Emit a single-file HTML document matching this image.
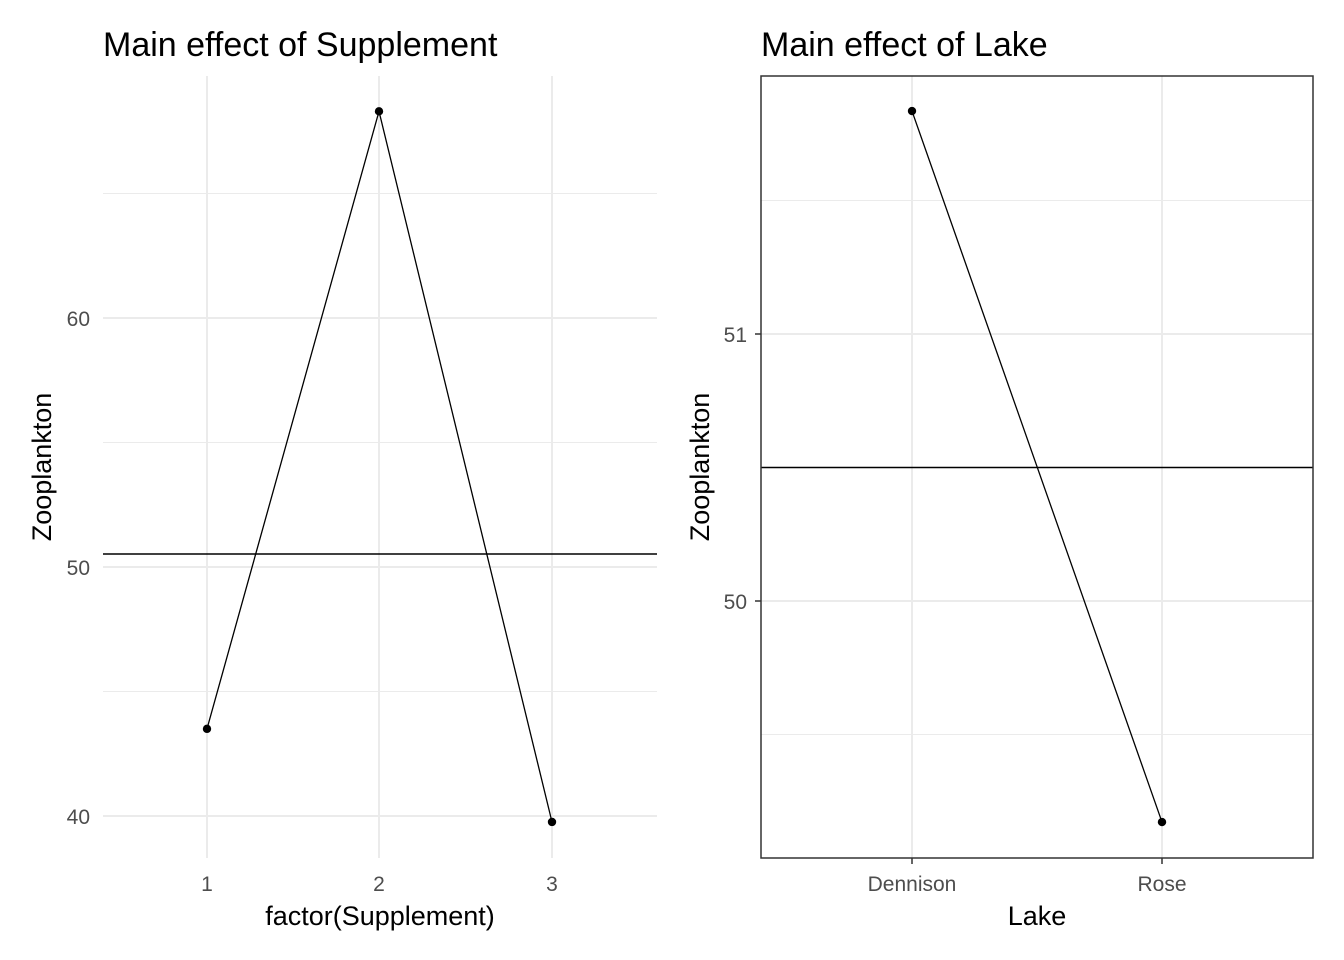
<!DOCTYPE html>
<html><head><meta charset="utf-8"><style>body{margin:0;background:#fff}svg{display:block}text{font-family:"Liberation Sans",Arial,sans-serif}</style></head>
<body>
<svg id="c" width="1344" height="960" xmlns="http://www.w3.org/2000/svg"></svg>
<script>
const supCats=["1","2","3"];
const supVals=[43.5,68.3,39.76];
const supMean=50.52;
const supTicks=[40,50,60];
const supMinor=[45,55,65];
const lakeCats=["Dennison","Rose"];
const lakeVals=[51.835,49.172];
const lakeMean=50.50;
const lakeTicks=[50,51];
const lakeMinor=[49.5,50.5,51.5];
const NS="http://www.w3.org/2000/svg";
const svg=document.getElementById('c');
function mk(t,a,txt){const e=document.createElementNS(NS,t);for(const k in a)e.setAttribute(k,a[k]);if(txt!==undefined)e.textContent=txt;svg.appendChild(e);return e;}
function panel(o){
  const y=v=>o.y0-(v-o.v0)*o.k;
  const x=i=>o.xs[i];
  o.minor.forEach(v=>{const l=mk('line',{x1:o.L,x2:o.R,y1:y(v),y2:y(v),stroke:'#ebebeb','stroke-width':1});});
  o.ticks.forEach(v=>{const l=mk('line',{x1:o.L,x2:o.R,y1:y(v),y2:y(v),stroke:'#ebebeb','stroke-width':2});
    const t=mk('text',{x:o.L-(o.border?14:13),y:y(v)+8,'text-anchor':'end','font-size':21,fill:'#4d4d4d'},String(v));
    if(o.border){const tk=mk('line',{x1:o.L-6,x2:o.L,y1:y(v),y2:y(v),stroke:'#333','stroke-width':1.5});}});
  o.cats.forEach((c,i)=>{const l=mk('line',{x1:x(i),x2:x(i),y1:o.T,y2:o.B,stroke:'#ebebeb','stroke-width':2});
    const t=mk('text',{x:x(i),y:o.B+33,'text-anchor':'middle','font-size':21,fill:'#4d4d4d'},c);
    if(o.border){const tk=mk('line',{x1:x(i),x2:x(i),y1:o.B,y2:o.B+6,stroke:'#333','stroke-width':1.5});}});
  const h=mk('line',{x1:o.L,x2:o.R,y1:y(o.mean),y2:y(o.mean),stroke:'#000','stroke-width':1.5});
  const p=mk('polyline',{points:o.vals.map((v,i)=>x(i)+','+y(v)).join(' '),fill:'none',stroke:'#000','stroke-width':1.3});
  o.vals.forEach((v,i)=>{const c=mk('circle',{cx:x(i),cy:y(v),r:4.2,fill:'#000'});});
  if(o.border){const r=mk('rect',{x:o.L,y:o.T,width:o.R-o.L,height:o.B-o.T,fill:'none',stroke:'#333','stroke-width':1.5});}
  const tt=mk('text',{x:o.L,y:56,'font-size':34,fill:'#000'},o.title);
  const xt=mk('text',{x:(o.L+o.R)/2,y:925,'text-anchor':'middle','font-size':27,fill:'#000'},o.xlab);
  const yt=mk('text',{x:0,y:0,'text-anchor':'middle','font-size':27,fill:'#000',transform:`translate(${o.ylx},${(o.T+o.B)/2}) rotate(-90)`},'Zooplankton');
}
panel({L:103,R:657,T:76,B:858,y0:567,v0:50,k:24.9,xs:[207,379,552],cats:supCats,vals:supVals,mean:supMean,ticks:supTicks,minor:supMinor,border:false,title:'Main effect of Supplement',xlab:'factor(Supplement)',ylx:51});
panel({L:761,R:1313,T:76,B:858,y0:601,v0:50,k:267,xs:[912,1162],cats:lakeCats,vals:lakeVals,mean:lakeMean,ticks:lakeTicks,minor:lakeMinor,border:true,title:'Main effect of Lake',xlab:'Lake',ylx:709});
</script>
</body></html>
